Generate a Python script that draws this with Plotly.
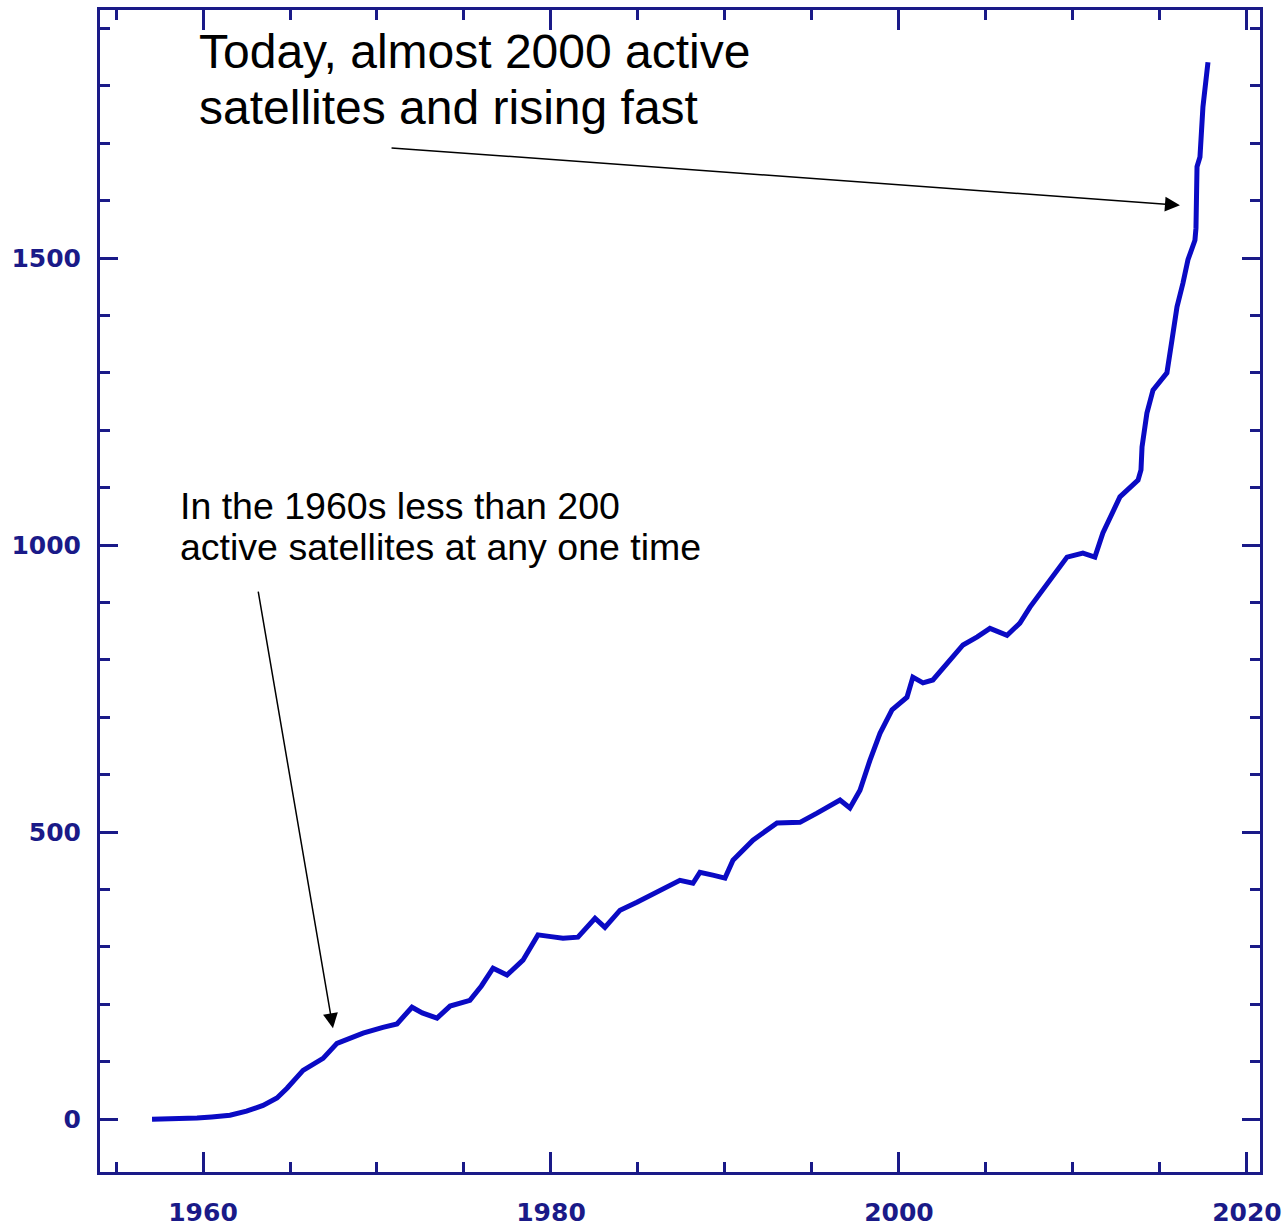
import plotly.graph_objects as go

# Active satellites over time
years = [1957.07, 1958.0, 1959.0, 1959.66, 1960.5, 1961.55, 1962.5, 1963.45, 1964.25,
         1964.83, 1965.75, 1966.9, 1967.7, 1968.4, 1969.2, 1970.34, 1971.15, 1972.01,
         1972.6, 1973.45, 1974.2, 1975.34, 1976.0, 1976.67, 1977.47, 1978.39, 1979.25,
         1980.0, 1980.69, 1981.55, 1982.53, 1983.1, 1983.97, 1984.94, 1985.7, 1986.44,
         1987.41, 1988.16, 1988.56, 1989.3, 1990.0, 1990.46, 1991.61, 1992.99, 1994.31,
         1995.29, 1996.61, 1997.18, 1997.76, 1998.33, 1998.91, 1999.6, 2000.46, 2000.8,
         2001.38, 2001.95, 2002.93, 2003.68, 2004.5, 2005.23, 2006.21, 2006.95, 2007.53,
         2008.68, 2009.66, 2010.57, 2011.26, 2011.72, 2012.7, 2013.74, 2013.91, 2013.97,
         2014.25, 2014.6, 2015.4, 2015.69, 2015.98, 2016.32, 2016.61, 2017.01, 2017.07,
         2017.13, 2017.3, 2017.47, 2017.7, 2017.76]
active = [0, 0, 1, 2, 4, 7, 14, 24, 37,
          54, 85, 106, 132, 140, 150, 160, 166, 195,
          185, 176, 197, 207, 232, 263, 251, 277, 321,
          318, 315, 317, 350, 334, 364, 378, 390, 402,
          416, 411, 430, 425, 420, 451, 486, 516, 517,
          533, 556, 542, 573, 625, 672, 713, 735, 770,
          760, 765, 800, 826, 840, 855, 843, 864, 892,
          939, 979, 986, 979, 1021, 1084, 1113, 1131, 1171,
          1230, 1270, 1300, 1357, 1415, 1456, 1497, 1531, 1552,
          1659, 1676, 1763, 1833, 1841]

x_tickvals = [1960, 1980, 2000, 2020]
x_ticktext = ["1960", "1980", "2000", "2020"]
y_tickvals = [0, 500, 1000, 1500]
y_ticktext = ["0", "500", "1000", "1500"]

note_top = ["Today, almost 2000 active", "satellites and rising fast"]
note_low = ["In the 1960s less than 200", "active satellites at any one time"]

AXC = "#1a1a88"
LINEC = "#0a0ac4"

fig = go.Figure()
fig.add_trace(go.Scatter(x=years, y=active, mode="lines",
                         line=dict(color=LINEC, width=5), showlegend=False,
                         hoverinfo="skip"))

tickfont = dict(family="DejaVu Sans", size=25, color=AXC, weight="bold")

fig.update_xaxes(range=[1954.08, 2020.75], tickmode="array", tickvals=x_tickvals,
                 ticktext=x_ticktext, ticks="inside", ticklen=20, tickwidth=3,
                 tickcolor=AXC, showline=True, linecolor=AXC, linewidth=3,
                 mirror="ticks", showgrid=False, zeroline=False, tickfont=tickfont,
                 ticklabelstandoff=16, automargin=False,
                 minor=dict(tickmode="linear", tick0=1955, dtick=5, ticks="inside",
                            ticklen=10, tickwidth=3, tickcolor=AXC, showgrid=False))
fig.update_yaxes(range=[-92, 1932], tickmode="array", tickvals=y_tickvals,
                 ticktext=y_ticktext, ticks="inside", ticklen=18, tickwidth=3,
                 tickcolor=AXC, showline=True, linecolor=AXC, linewidth=3,
                 mirror="ticks", showgrid=False, zeroline=False, tickfont=tickfont,
                 ticklabelstandoff=11, automargin=False,
                 minor=dict(tickmode="linear", tick0=0, dtick=100, ticks="inside",
                            ticklen=10, tickwidth=3, tickcolor=AXC, showgrid=False))

ann_font_big = dict(family="Liberation Sans, Arial, sans-serif", size=48, color="black")
ann_font_small = dict(family="Liberation Sans, Arial, sans-serif", size=37.5, color="black")

# text lines
for txt, yv in zip(note_top, [1860, 1763]):
    fig.add_annotation(x=1959.66, y=yv, xref="x", yref="y", text=txt, showarrow=False,
                       xanchor="left", yanchor="middle", font=ann_font_big)
for txt, yv in zip(note_low, [1068, 996]):
    fig.add_annotation(x=1958.57, y=yv, xref="x", yref="y", text=txt, showarrow=False,
                       xanchor="left", yanchor="middle", font=ann_font_small)

# arrows
fig.add_annotation(x=2016.15, y=1592, ax=1970.75, ay=1692, xref="x", yref="y",
                   axref="x", ayref="y", text="", showarrow=True, arrowhead=2,
                   arrowsize=2, arrowwidth=1.5, arrowcolor="black", standoff=0)
fig.add_annotation(x=1967.47, y=158.5, ax=1963.16, ay=921.6, xref="x", yref="y",
                   axref="x", ayref="y", text="", showarrow=True, arrowhead=2,
                   arrowsize=2, arrowwidth=1.5, arrowcolor="black", standoff=0)

fig.update_layout(width=1287, height=1228, margin=dict(l=100, r=27, t=10, b=56),
                  paper_bgcolor="white", plot_bgcolor="white")

fig.write_html("out.html", config={"displayModeBar": False},
               post_script="document.body.style.margin='0';document.body.style.overflow='hidden';")
